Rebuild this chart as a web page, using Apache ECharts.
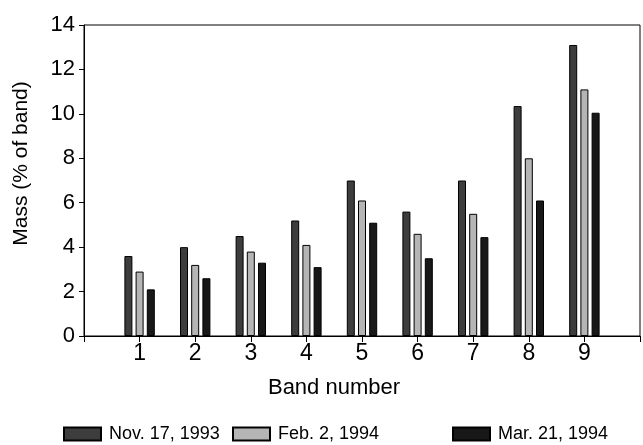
<!DOCTYPE html>
<html>
<head>
<meta charset="utf-8">
<script src="https://cdn.jsdelivr.net/npm/echarts@6/dist/echarts.min.js"></script>
<style>
  html, body { margin: 0; padding: 0; background: #fff; }
  #chart { width: 643px; height: 445px; }
</style>
</head>
<body>
<div id="chart"></div>
<script>
// band numbers and mass (% of band) per sampling date
const bands = [1, 2, 3, 4, 5, 6, 7, 8, 9];
const nov1993 = [3.6, 4.0, 4.5, 5.2, 7.0, 5.6, 7.0, 10.35, 13.1];
const feb1994 = [2.9, 3.2, 3.8, 4.1, 6.1, 4.6, 5.5, 8.0, 11.1];
const mar1994 = [2.1, 2.6, 3.3, 3.1, 5.1, 3.5, 4.45, 6.1, 10.05];
const seriesNames = ["Nov. 17, 1993", "Feb. 2, 1994", "Mar. 21, 1994"];

const font = "'Liberation Sans', Arial, sans-serif";
const chart = echarts.init(document.getElementById("chart"));

const pairs = (vals) => bands.map((b, i) => [b, vals[i]]);

const barStyle = (color) => ({
  color: color,
  borderColor: "#000",
  borderWidth: 1,
});

// one legend per series so the uneven spacing of the original can be kept
const legendAt = (left, name) => ({
  left: left,
  top: 425,
  padding: 0,
  icon: "rect",
  data: [name],
  itemWidth: 37,
  itemHeight: 13,
  textStyle: { fontFamily: font, fontSize: 18, color: "#000", padding: [0, 0, 0, 3] },
});

const option = {
  animation: false,
  backgroundColor: "#fff",
  textStyle: { fontFamily: font },
  legend: [
    legendAt(63, seriesNames[0]),
    legendAt(232, seriesNames[1]),
    legendAt(452, seriesNames[2]),
  ],
  grid: {
    left: 84,
    right: 1,
    top: 25,
    bottom: 109,
    show: true,
    borderColor: "#000",
    borderWidth: 1,
  },
  xAxis: {
    type: "value",
    min: 0,
    max: 10,
    interval: 1,
    name: "Band number",
    nameLocation: "middle",
    nameGap: 41,
    nameTextStyle: { fontSize: 22, color: "#000", padding: [0, 56, 0, 0] },
    axisLine: { show: true, lineStyle: { color: "#000", width: 1 } },
    axisTick: { show: true, inside: false, length: 6, lineStyle: { color: "#000" } },
    axisLabel: {
      fontSize: 23,
      color: "#000",
      margin: 6,
      formatter: (v) => (v >= 1 && v <= 9 ? String(v) : ""),
    },
    splitLine: { show: false },
  },
  yAxis: {
    type: "value",
    min: 0,
    max: 14,
    interval: 2,
    name: "Mass (% of band)",
    nameLocation: "middle",
    nameGap: 52,
    nameTextStyle: { fontSize: 21, color: "#000", padding: [0, 0, 0, 34] },
    axisLine: { show: true, lineStyle: { color: "#000", width: 1 } },
    axisTick: { show: true, inside: false, length: 5, lineStyle: { color: "#000" } },
    axisLabel: { fontSize: 22, color: "#000", margin: 9 },
    splitLine: { show: false },
  },
  series: [
    {
      name: seriesNames[0],
      type: "bar",
      data: pairs(nov1993),
      barWidth: 8,
      barGap: "40%",
      itemStyle: barStyle("#3d3d3d"),
    },
    {
      name: seriesNames[1],
      type: "bar",
      data: pairs(feb1994),
      barWidth: 8,
      barGap: "40%",
      itemStyle: barStyle("#b5b5b5"),
    },
    {
      name: seriesNames[2],
      type: "bar",
      data: pairs(mar1994),
      barWidth: 8,
      barGap: "40%",
      itemStyle: barStyle("#181818"),
    },
  ],
};

chart.setOption(option);
</script>
</body>
</html>
